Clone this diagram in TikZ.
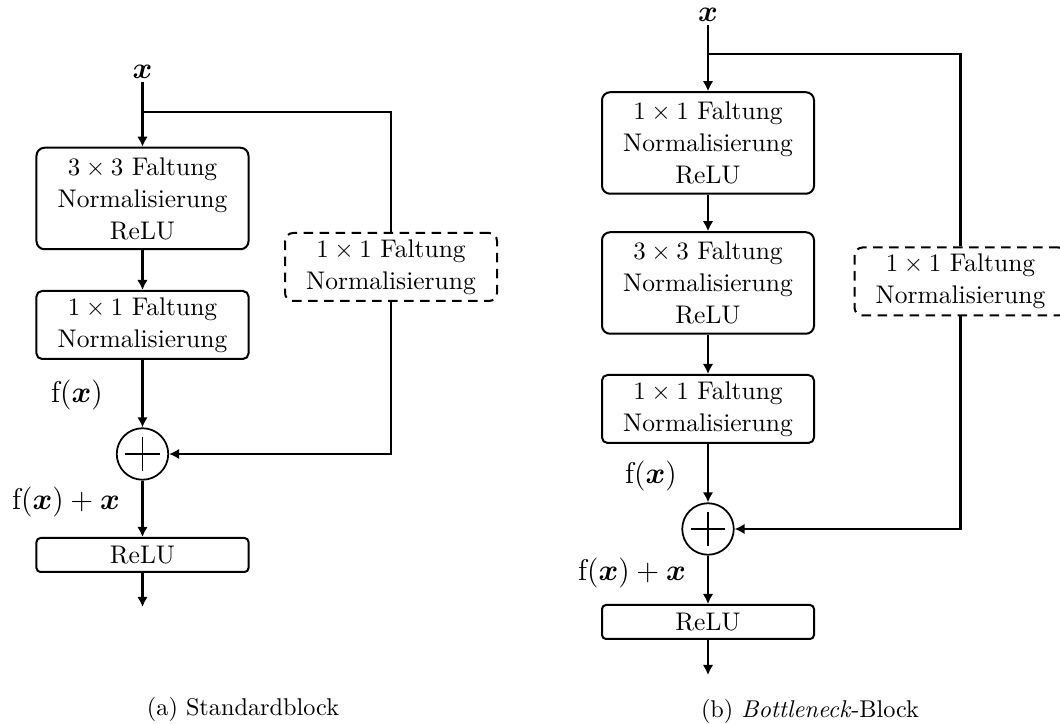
\documentclass[tikz,border=0pt]{standalone}
\usepackage{amsmath,bm}
\usetikzlibrary{arrows.meta}

\tikzset{
  blk/.style={draw, line width=0.8pt, rounded corners=3.2pt, minimum width=84.8pt,
    align=center, inner sep=0pt, font=\fontsize{10.2}{12.8}\selectfont},
  tall/.style={blk, minimum height=40.6pt},
  mid/.style={blk, minimum height=27.2pt, rounded corners=2.2pt},
  flat/.style={blk, minimum height=13.6pt, rounded corners=1.6pt},
  skip/.style={mid, rounded corners=3.2pt, dash pattern=on 3.8pt off 2.6pt},
  addnode/.style={draw, circle, line width=0.7pt, minimum size=20.6pt, inner sep=0pt},
  wire/.style={line width=1pt},
  arr/.style={wire, -{Latex[length=4pt,width=4.2pt]}},
  inlab/.style={inner sep=1pt, font=\fontsize{12}{14}\selectfont},
  sumlab/.style={inner sep=0pt, font=\fontsize{11.8}{14}\selectfont},
  subcap/.style={inner sep=0pt, font=\fontsize{9.7}{12}\selectfont}
}

\newcommand{\plusmark}[1]{%
  \draw[line width=0.5pt] ([yshift=6.9pt]#1.center) -- ([yshift=-6.9pt]#1.center);
  \draw[line width=0.5pt] ([xshift=-6.9pt]#1.center) -- ([xshift=6.9pt]#1.center);}

\begin{document}
\begin{tikzpicture}[x=0.4pt,y=-0.4pt]
\useasboundingbox (0,0) rectangle (1060,724);

% ---------- (a) standard residual block ----------
\node[inlab] (xa) at (142.5,72) {$\bm{x}$};
\coordinate (ja) at (142.5,112);
\node[tall] (a1) at (142.5,198.5) {$3\times3$ Faltung\\Normalisierung\\ReLU};
\node[mid]  (a2) at (142.5,325) {$1\times1$ Faltung\\Normalisierung};
\node[skip] (as) at (391,267) {$1\times1$ Faltung\\Normalisierung};
\node[addnode] (ca) at (142.5,454) {};
\plusmark{ca}
\node[flat] (ra) at (142.5,555) {ReLU};
\coordinate (oa) at (142.5,607);

\draw[arr] (xa.south) -- (a1.north);
\draw[wire] (ja) -| (as.north);
\draw[arr] (a1.south) -- (a2.north);
\draw[arr] (a2.south) -- (ca.north);
\draw[arr] (as.south) |- (ca.east);
\draw[arr] (ca.south) -- (ra.north);
\draw[arr] (ra.south) -- (oa);

\node[sumlab] (fa)  at (77,395) {$\mathrm{f}(\bm{x})$};
\node[sumlab] (fxa) at (66,502) {$\mathrm{f}(\bm{x})+\bm{x}$};
\node[subcap] (capa) at (243,709) {(a) Standardblock};

% ---------- (b) bottleneck residual block ----------
\node[inlab] (xb) at (708,15) {$\bm{x}$};
\coordinate (jb) at (708,54);
\node[tall] (b1) at (708,143) {$1\times1$ Faltung\\Normalisierung\\ReLU};
\node[tall] (b2) at (708,283) {$3\times3$ Faltung\\Normalisierung\\ReLU};
\node[mid]  (b3) at (708,409) {$1\times1$ Faltung\\Normalisierung};
\node[skip] (bs) at (960.5,281.5) {$1\times1$ Faltung\\Normalisierung};
\node[addnode] (cb) at (708,529) {};
\plusmark{cb}
\node[flat] (rb) at (708,622) {ReLU};
\coordinate (ob) at (708,675);

\draw[arr] (xb.south) -- (b1.north);
\draw[wire] (jb) -| (bs.north);
\draw[arr] (b1.south) -- (b2.north);
\draw[arr] (b2.south) -- (b3.north);
\draw[arr] (b3.south) -- (cb.north);
\draw[arr] (bs.south) |- (cb.east);
\draw[arr] (cb.south) -- (rb.north);
\draw[arr] (rb.south) -- (ob);

\node[sumlab] (fb)  at (651,476) {$\mathrm{f}(\bm{x})$};
\node[sumlab] (fxb) at (632,573) {$\mathrm{f}(\bm{x})+\bm{x}$};
\node[subcap] (capb) at (810,711) {(b) \textit{Bottleneck}-Block};
\end{tikzpicture}
\end{document}
